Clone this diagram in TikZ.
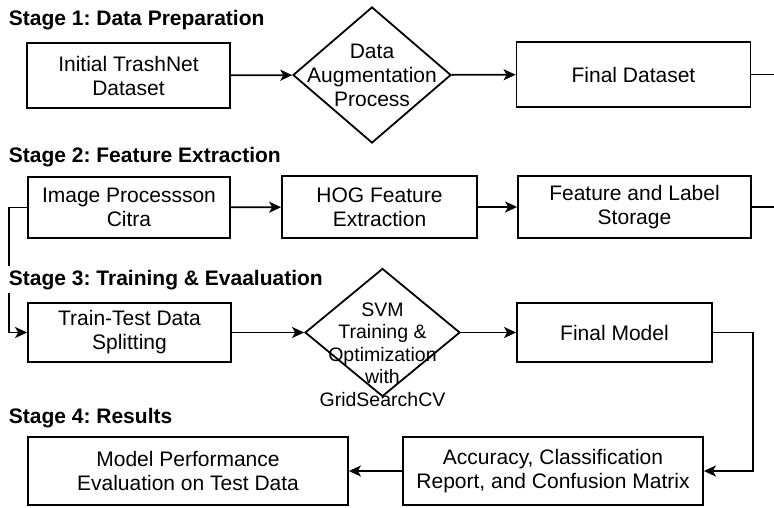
\documentclass[tikz,border=0pt]{standalone}
\usepackage{fontspec}
\setmainfont{Liberation Sans}
\usetikzlibrary{shapes.geometric,arrows.meta}
\frenchspacing

\begin{document}
\begin{tikzpicture}[x=1pt, y=1pt, line width=1.8pt,
	box/.style = {draw, rectangle, align=center, inner sep=0pt, font=\fontsize{21}{24}\selectfont},
	decision/.style = {draw, diamond, inner sep=0pt},
	stagetitle/.style = {anchor=base west, fill=white, inner sep=4pt, font=\fontsize{21}{24}\selectfont\bfseries},
	>={Stealth[length=12pt, width=11pt, inset=3pt]}]
					\useasboundingbox (0,0) rectangle (774,-507);
					% row 1
					\node[box, minimum width=203pt, minimum height=65pt] (A) at (128.5,-75.5) {Initial TrashNet\\Dataset};
					\node[decision, minimum width=158pt, minimum height=136pt, label={[align=center, font=\fontsize{21}{24}\selectfont]center:{Data\\Augmentation\\Process}}] (B) at (372,-75) {};
					\node[box, minimum width=234pt, minimum height=65pt] (C) at (633.5,-74.5) {Final Dataset};
					\coordinate (R1) at (774,-74.5);
					% row 2
					\node[box, minimum width=202pt, minimum height=61pt] (D) at (129,-207.5) {Image Processson\\Citra};
					\node[box, minimum width=195pt, minimum height=62pt] (E) at (379.5,-207) {HOG Feature\\Extraction};
					\node[box, minimum width=233pt, minimum height=62pt] (F) at (634.5,-207) {Feature and Label\\Storage};
					\coordinate (R2) at (774,-207);
					% row 3
					\node[box, minimum width=203pt, minimum height=59pt] (G) at (129.5,-332.5) {Train-Test Data\\Splitting};
					\node[decision, minimum width=155pt, minimum height=128pt, label={[align=center, font=\fontsize{19.5}{22.5}\selectfont, yshift=-22pt]center:{SVM\\Training \&\\Optimization\\with\\GridSearchCV}}] (H) at (382.5,-332.5) {};
					\node[box, minimum width=195pt, minimum height=59pt] (I) at (614.5,-332.5) {Final Model};
					% row 4
					\node[box, minimum width=320pt, minimum height=68pt] (J) at (188,-471) {Model Performance\\Evaluation on Test Data};
					\node[box, minimum width=300pt, minimum height=68pt] (K) at (553,-471) {Accuracy, Classification\\Report, and Confusion Matrix};
					\draw[->] (A) -- (B);
					\draw[->] (B) -- (C);
					\draw (C.east) -- (R1);
					\draw[->] (D) -- (E);
					\draw[->] (E) -- (F);
					\draw (F.east) -- (R2);
					\draw[->] (D.west) -- ++(-18,0) |- (G.west);
					\draw[->] (G) -- (H);
					\draw[->] (H) -- (I);
					\draw[->] (I.east) -- ++(40,0) |- (K.east);
					\draw[->] (K) -- (J);
					% stage titles
					\node[stagetitle] (S1) at (4,-25) {Stage 1: Data Preparation};
					\node[stagetitle] (S2) at (4,-162) {Stage 2: Feature Extraction};
					\node[stagetitle] (S3) at (4,-285) {Stage 3: Training \& Evaaluation};
					\node[stagetitle] (S4) at (4,-423) {Stage 4: Results};
				\end{tikzpicture}
\end{document}
